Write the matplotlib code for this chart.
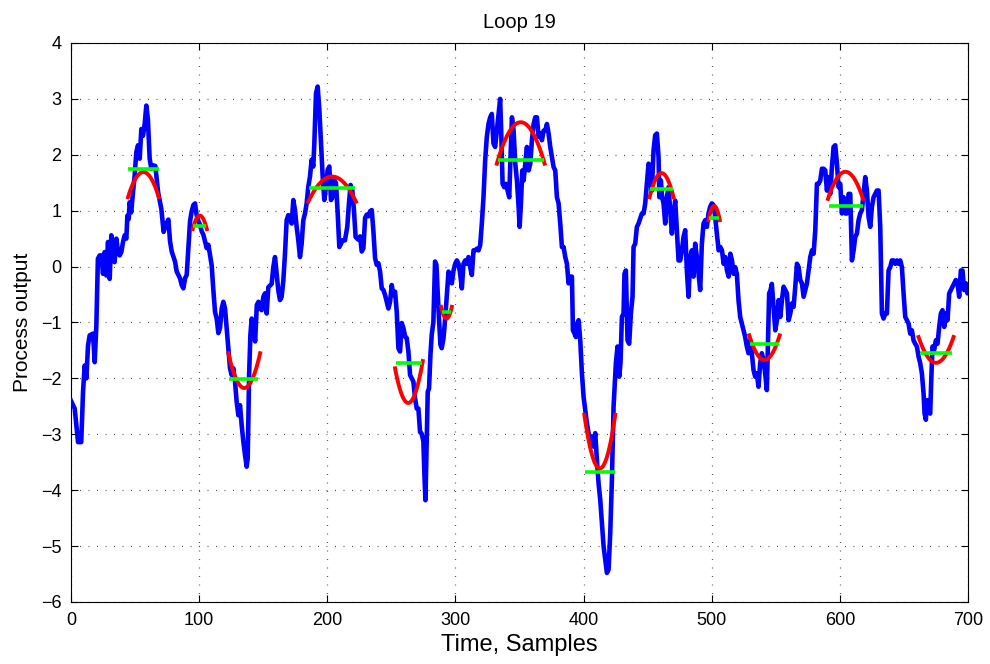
import numpy as np
import matplotlib
matplotlib.use("Agg")
import matplotlib.pyplot as plt

# process output (blue)
t_out = [0, 2.9, 4.2, 5.5, 8, 9.4, 10.7, 12, 13.3, 14.6, 17.2, 18.5, 19.8, 21, 22.4, 23.7, 25, 26.3,
         27.6, 28.9, 30.2, 31.5, 32.8, 34, 35.4, 36.7, 38, 39.3, 40.6, 41.9, 43.2, 44, 45, 45.8, 47,
         48.4, 49.7, 51, 52.3, 53.6, 54.9, 56.2, 57.5, 58.8, 60, 61.4, 62.7, 64, 65.8, 68, 70.5, 72.3,
         73.9, 76, 77.3, 78.6, 81.2, 82.5, 83.8, 85.1, 86.4, 87.7, 89, 90.3, 91.6, 92.9, 94.2, 95.5,
         96.8, 98, 99.4, 100.7, 102, 103.3, 104.6, 105.9, 107.2, 108.5, 109.8, 111, 112.4, 113.7, 115,
         116.3, 117.6, 118.9, 120.2, 121.5, 122.8, 124.1, 125.4, 126.7, 128, 129.3, 130.6, 131.9,
         133.2, 134.5, 135.8, 137.1, 137.9, 139, 140, 141, 142.4, 143.7, 145, 146.3, 147.6,
         148.8, 150.1, 151.4, 152.7, 154, 155.3, 156.6, 157.9, 159.2, 160.5, 161.8, 163.1, 164.4,
         165.7, 167, 168.3, 169.6, 171, 172.2, 173.5, 174.8, 176.1, 177.4, 178.7, 180, 181.3, 182.6,
         183.9, 185.2, 186.5, 187.8, 189.1, 189.9, 191.2, 192.5, 193.8, 195.1, 196.4, 197.7, 199,
         200.3, 201.6, 202.9, 204.2, 205.5, 206.8, 208, 209.4, 210.7, 212, 213.8, 215.6, 216.9,
         218.2, 219.5, 220.8, 222.1, 224.3, 225.6, 226.9, 228.2, 229.5, 230.8, 232.1, 233.4, 234.7,
         236, 237.3, 238.6, 239.9, 241.2, 242.5, 243.8, 245.1, 246.4, 247.7, 249, 250.3, 251.6,
         252.9, 254.2, 255.5, 256.8, 258.1, 259.4, 260.7, 262, 263.3, 264.6, 265.9, 267.2, 268.5,
         269.8, 271.1, 272.4, 273.7, 275, 275.8, 276.6, 277.6, 278.4, 279.4, 280.5, 281.5, 282.8,
         284.1, 285.2, 286, 287.3, 288.3, 289.3, 290.7, 292, 293.3, 294.6, 295.9,
         297.2, 298.5, 299.8, 301.1, 302.4, 303.7, 305, 306.3, 307.6, 308.9, 310.2, 311.5, 312.8,
         314.1, 315.4, 316.7, 318, 319.3, 320.6, 321.9, 323.2, 324.5, 325.8, 327.1, 328.4, 329.7,
         331, 332.3, 333.6, 334.9, 335.7, 336.8, 338.1, 339.4, 340.7, 342, 342.8, 344.1, 345.4,
         346.7, 348, 349.3, 350.1, 351.1, 352.2, 353.2, 354.5, 355.8, 357.1, 358.4, 359.7, 361,
         362.3, 363.6, 364.9, 366.2, 367.5, 368.8, 370.1, 371.4, 372.7,
         374, 375.3, 376.6, 377.9, 379.2, 380.5, 381.8, 383.1, 384.4, 385.7, 387, 388.3, 389.6,
         390.9, 391.7, 393, 394, 395, 396.1, 397.4, 398.7, 400, 401.3, 402.6, 403.9, 405.2, 406.5,
         407.8, 409.1, 410.4, 411.7, 413, 414.3, 415.6, 416.9, 418.2, 419.5, 420.8, 422.1, 423.4,
         424.1, 425.2, 426.5, 427.8, 428.8, 429.9, 431.2, 431.9, 433, 434.3, 435.6, 436.9, 438.2,
         439, 440.3, 441.6, 442.9,
         445.5, 446.8, 448.1, 449.4, 450.7, 452, 453.3, 454.6, 455.9, 457.2, 458.5, 459.2, 460.3,
         461.3, 462.4, 463.7, 465, 466.3, 467.6, 468.9, 470.2, 471.5, 472.8, 474.1, 475.4, 476.7,
         478, 479.3, 480.6, 481.9, 483.2, 484.5, 485.8, 487.1, 488.4, 489.7, 491, 492.3, 493.6,
         494.9, 496.2, 497.5, 498.8, 500.1, 501.4, 502.7, 504, 505.4, 506.7, 508, 509.3, 510.6,
         511.9, 513.2, 514.5, 515.8, 517.1,
         518.3, 519.6, 520.9, 522.2, 523.5, 524.8, 526.1, 527.4, 528.7, 530, 531.3, 532.6, 533.9,
         535.2, 536.5, 537.8, 539.1, 540.4, 541.7, 543, 543.8, 544.8, 545.9, 546.9, 548.2, 549.6,
         550.9, 552.2, 553.5, 554.8, 556.1, 557.4, 558.7, 560, 561.3, 562.6, 563.9, 565.2, 566.5,
         567.8, 569.1, 570.4, 571.7, 573, 574.3, 575.6, 576.9, 578.2, 579.5, 580.8, 582.1, 583.4,
         584.7, 586, 587.3, 588.6, 589.9, 591.2,
         592.5, 593.8, 595.1, 596.4, 597.7, 599, 600.3, 601.6, 602.9, 604.2, 605.5, 606.8, 608.1,
         609.4, 610.7, 612, 613.3, 614.6, 615.9, 617.2, 618.5, 619.8, 621.1, 622.4, 623.7, 625,
         626.3, 627.6, 628.9, 630.2, 631.5, 632.8, 634.1, 635.4, 636.7, 638, 639.3, 640.6, 641.9,
         643.2, 644.5, 645.8, 647.1, 648.4, 649.7, 651, 652.3, 653.6, 654.9, 656.2, 657.5, 658.8,
         660.1, 661.4, 662.7, 664, 665.3, 666.1, 667.1, 667.9, 669.2, 670.5, 671.3, 672.3, 673.6,
         674.9, 676.2, 677.5, 678.8, 680.1, 681.4, 682.7, 684, 685.3, 686.6, 687.9, 689.2, 690.5,
         691.8, 693.1, 694.4, 695.7, 697, 698.3, 699.6, 700]
y_out = [-2.4, -2.54, -2.84, -3.14, -3.14, -2.24, -1.77, -2.0, -1.41, -1.23, -1.2, -1.71, -1.05,
         0.14, 0.2, 0.2, -0.13, 0.26, -0.16, 0.44, -0.22, 0.56, 0.14, 0.08, 0.5, 0.26, 0.2, 0.26,
         0.44, 0.56, 0.5, 0.91, 0.85, 1.15, 0.97, 1.33, 1.63, 2.05, 2.17, 1.93, 2.46, 2.34, 2.55,
         2.88, 2.64, 1.93, 1.75, 1.81, 1.8, 1.33, 1.03, 0.62,
         0.74, 0.84, 0.45, 0.27, 0.09, -0.09, -0.15, -0.21, -0.33, -0.39, -0.21, -0.15, 0.33, 0.81,
         0.99, 1.1, 1.13, 0.93, 0.81, 0.75, 0.63, 0.57, 0.45, 0.33, 0.39, 0.21, 0.02, -0.39, -0.81,
         -0.93, -1.19, -1.1, -0.75, -0.63, -0.75, -1.1, -1.46, -1.82, -1.94, -1.82, -2.06, -2.42,
         -2.66, -2.48, -2.84, -3.13, -3.37, -3.58, -3.43, -1.94, -1.22, -0.93, -1.1, -1.34, -0.69,
         -0.63, -0.75,
         -0.78, -0.54, -0.48, -0.84, -0.37, -0.34, -0.31, -0.01, 0.17, -0.13, -0.43, -0.6, -0.54,
         -0.25, 0.23, 0.83, 0.92, 0.89, 0.77, 1.19, 1.01, 0.71, 0.47, 0.17, 0.41, 0.83, 0.95, 1.13,
         1.43, 1.61, 1.91, 1.79, 2.21, 3.1, 3.22, 2.81, 2.21, 1.61, 1.19, 1.43, 1.73, 1.79, 1.19,
         1.25, 1.55, 1.49, 1.01, 0.35, 0.41, 0.47, 0.47, 0.71, 1.13, 1.46, 1.37, 1.01, 0.53,
         0.48, 0.54, 0.27, 0.33, 0.87, 0.93, 0.9, 0.99, 1.01, 0.63, 0.15, 0.03, 0.06, -0.09, -0.39,
         -0.42, -0.51, -0.63, -0.75, -0.63, -0.33, -0.51, -0.45, -0.81, -1.46, -1.52, -1.01, -1.1,
         -1.25, -1.28, -1.52, -1.94, -2.0, -2.06, -2.36, -2.54, -2.54, -2.96, -2.99, -3.13, -3.73,
         -4.18, -3.13, -2.24, -2.18, -1.58, -1.22, -0.99, 0.09, 0.03, -0.39, -0.99, -1.4, -1.46,
         -1.28, -0.93, -0.51, -0.09, -0.21,
         -0.3, -0.07, 0.05, 0.11, 0.05, -0.13, -0.39, 0.05, 0.11, 0.05, 0.17, -0.01, -0.15, 0.29,
         0.29, 0.32, 0.29, 0.38, 0.77, 1.24, 1.9, 2.32, 2.55, 2.67, 2.73, 2.2, 2.14, 2.43, 2.73,
         3.0, 2.43, 1.48, 1.42, 1.48, 1.36, 1.24, 1.84, 2.67, 2.43, 1.84, 1.54, 1.07, 0.71, 1.13,
         1.72, 1.54, 1.84, 2.14, 1.72, 1.84, 2.26, 2.55, 2.67, 2.67, 2.32, 2.38, 2.26, 2.43, 2.43,
         2.55, 2.38,
         2.14, 1.96, 1.78, 1.72, 1.24, 1.13, 0.77, 0.35, 0.35, 0.17, 0.05, -0.3, -0.18, -0.18,
         -1.14, -1.2, -1.26, -1.02, -0.96, -1.32, -1.91, -2.33, -2.57, -2.8, -2.98, -3.1, -3.04,
         -3.22, -2.98, -3.46, -3.88, -4.17, -4.59, -5.0, -5.24, -5.48, -5.42, -4.77, -3.82, -2.51,
         -2.21, -1.73, -1.43, -1.97, -1.73, -0.9, -0.84, -0.13, -0.07, -1.32, -1.38, -0.84, -0.54,
         0.35, 0.41, 0.71, 0.77,
         0.95, 0.95, 1.13, 1.48, 1.84, 1.78, 1.36, 2.08, 2.35, 2.38, 1.96, 1.24, 1.54, 1.24, 1.13,
         0.77, 1.24, 1.42, 1.01, 0.59, 0.95, 1.18, 0.65, 0.11, 0.11, 0.29, 0.53, 0.65, -0.07,
         -0.54, 0.17, 0.29, -0.18, 0.41, 0.17, -0.13, -0.42, 0.41, 0.77, 0.83, 0.71, 0.95, 1.07,
         1.13, 1.1, 0.89, 0.59, 0.29, 0.35, 0.29, 0.05, 0.17, -0.07, -0.18, 0.23, 0.11, -0.13,
         -0.01, -0.13, -0.6, -0.9, -1.02, -1.14, -1.26, -1.43, -1.55, -1.32, -1.55, -1.85, -1.97,
         -1.91, -2.15, -1.73, -1.55, -1.67, -1.91, -2.21, -1.43, -0.48, -0.42, -0.31, -0.72, -1.14,
         -0.96, -0.6, -0.9, -0.6, -0.36, -0.42, -0.48, -0.96, -0.84, -0.66, -0.72, -0.36, 0.05,
         -0.01, -0.24, -0.3, -0.54, -0.42, -0.3, -0.07, 0.17, 0.29, 0.23, 0.65, 1.48, 1.48, 1.54,
         1.75, 1.75, 1.72, 1.36, 1.6,
         1.3, 1.78, 2.14, 2.17, 1.84, 1.42, 1.48, 0.95, 1.24, 0.95, 0.95, 1.3, 1.3, 0.11, 0.29,
         0.53, 0.59, 0.83, 0.95, 1.01, 1.3, 1.6, 1.36, 0.89, 0.71, 1.07, 1.24, 1.3, 1.36, 1.36,
         0.71, -0.84, -0.93, -0.84, -0.84, -0.07, -0.01, 0.11, 0.11, 0.05, 0.11, 0.05, 0.11, -0.01,
         -0.48, -0.9, -0.96, -1.02, -1.2, -1.14, -1.32, -1.38, -1.43, -1.61, -1.73, -1.91, -2.27,
         -2.63, -2.74, -2.39, -2.57, -2.63, -2.03, -1.43, -1.49, -1.32, -1.38, -1.08, -0.84, -0.78,
         -1.08, -0.84, -0.96, -0.48, -0.42, -0.36, -0.3, -0.24, -0.3, -0.54, -0.07, -0.07, -0.42,
         -0.3, -0.48, -0.4]

# fitted parabolas (red): start, vertex, end sample and the values there
arc_x0 = [44.5, 95, 122.8, 185.2, 252.9, 288.8, 332.3, 400.6, 451.5, 497.5, 529.3, 590.7, 661.4]
arc_xv = [56.5, 100, 134.5, 204.2, 263.3, 293, 350, 413, 460.3, 501.4, 541.2, 602.9, 674.4]
arc_x1 = [68.5, 106, 147.6, 222.4, 274.5, 297.2, 369.6, 424.7, 470.2, 506.3, 553, 618, 688.7]
arc_y0 = [1.24, 0.67, -1.55, 1.16, -1.82, -0.72, 1.84, -2.65, 1.24, 0.83, -1.23, 1.21, -1.26]
arc_yv = [1.69, 0.91, -2.17, 1.61, -2.44, -0.93, 2.58, -3.61, 1.67, 1.08, -1.67, 1.69, -1.72]
arc_y1 = [1.24, 0.67, -1.55, 1.16, -1.69, -0.72, 1.84, -2.65, 1.24, 0.83, -1.23, 1.21, -1.26]

# segment means (green)
lvl_x0 = [44.5, 95.5, 123.6, 186, 253.7, 289.8, 333, 400.8, 452, 498, 530, 591.2, 662.2]
lvl_x1 = [69, 105, 146.3, 221.6, 273.7, 296.7, 368.8, 424.7, 469.8, 505.7, 552.2, 617.8, 687.4]
lvl_y = [1.74, 0.72, -2.01, 1.4, -1.73, -0.82, 1.9, -3.67, 1.39, 0.87, -1.38, 1.08, -1.55]

plt.rcParams['font.family'] = ['Liberation Sans', 'DejaVu Sans']

fig = plt.figure(figsize=(9.9, 6.64), dpi=100)
ax = fig.add_axes([0.0717, 0.0934, 0.9061, 0.8419])

ax.plot(t_out, y_out, color='#0000ff', lw=3.3, solid_joinstyle='round', zorder=3)

for i in range(len(arc_x0)):
    xs = [arc_x0[i], arc_xv[i], arc_x1[i]]
    ys = [arc_y0[i], arc_yv[i], arc_y1[i]]
    c = np.polyfit(xs, ys, 2)
    xx = np.linspace(arc_x0[i], arc_x1[i], 60)
    ax.plot(xx, np.polyval(c, xx), color='#ff0000', lw=2.8, zorder=4)

for i in range(len(lvl_y)):
    ax.plot([lvl_x0[i], lvl_x1[i]], [lvl_y[i], lvl_y[i]], color='#00ff00', lw=2.6,
            solid_capstyle='butt', zorder=5)

ax.set_xlim(0, 700)
ax.set_ylim(-6, 4)
ax.set_xticks(np.arange(0, 701, 100))
ax.set_yticks(np.arange(-6, 5, 1))
ax.grid(True, color='0.35', linestyle=(0, (0.8, 6)), lw=0.9)
ax.tick_params(direction='in', length=5, width=0.8, top=True, right=True, labelsize=13, pad=7)
for sp in ax.spines.values():
    sp.set_linewidth(0.8)

ax.set_title('Loop 19', fontsize=14.5, pad=11)
ax.set_xlabel('Time, Samples', fontsize=17, labelpad=4)
ax.set_ylabel('Process output', fontsize=15, labelpad=6)

plt.savefig('out.png', dpi=100)
